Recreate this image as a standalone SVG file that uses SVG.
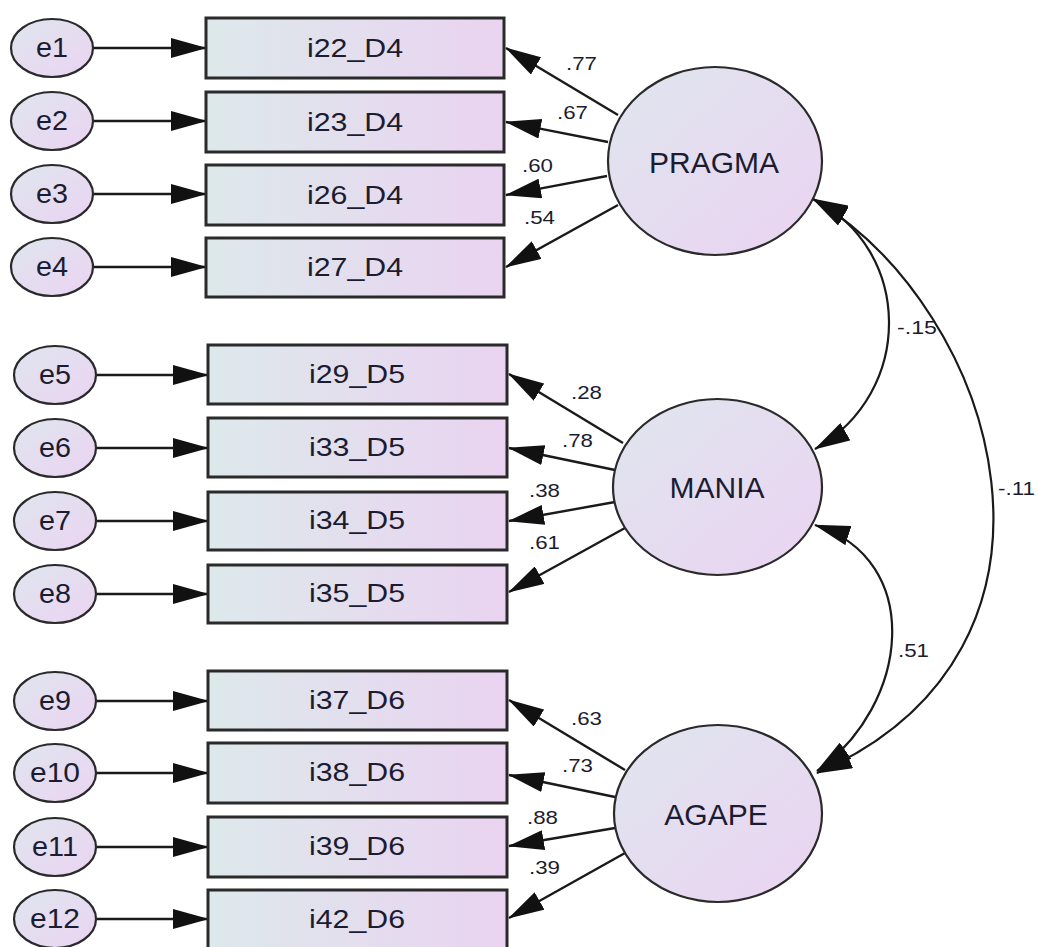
<svg xmlns="http://www.w3.org/2000/svg" width="1038" height="947" viewBox="0 0 1038 947">
<defs>
<linearGradient id="gBox" x1="0" y1="0" x2="1" y2="0">
<stop offset="0" stop-color="#dde9eb"/>
<stop offset="1" stop-color="#ead3f1"/>
</linearGradient>
<linearGradient id="gEll" x1="0" y1="0" x2="1" y2="1">
<stop offset="0" stop-color="#dfe6ee"/>
<stop offset="1" stop-color="#ebd3f2"/>
</linearGradient>
<marker id="ah" markerUnits="userSpaceOnUse" markerWidth="36" markerHeight="20" refX="35" refY="10" orient="auto-start-reverse" viewBox="0 0 36 20">
<path d="M0,0 L36,10 L0,20 Z" fill="#111"/>
</marker>
<style>
.box{fill:url(#gBox);stroke:#2a2a2a;stroke-width:3}
.ell{fill:url(#gEll);stroke:#2a2a2a;stroke-width:2.2}
.lat{fill:url(#gEll);stroke:#2a2a2a;stroke-width:2.2}
.t{font-family:"Liberation Sans",Arial,sans-serif;fill:#1c1c30;text-anchor:middle}
.bt{font-size:25px}
.et{font-size:27px}
.lt{font-size:30px}
.pl{font-family:"Liberation Sans",Arial,sans-serif;font-size:19px;fill:#1c1c30}
.c{fill:none;stroke:#1a1a1a;stroke-width:2.4;marker-end:url(#ah)}
.cc{fill:none;stroke:#1a1a1a;stroke-width:2.2;marker-start:url(#ah);marker-end:url(#ah)}
</style>
</defs>

<g id="connectors">
<line class="c" x1="93" y1="48" x2="206" y2="48"/>
<line class="c" x1="93" y1="121" x2="206" y2="121"/>
<line class="c" x1="93" y1="194" x2="206" y2="194"/>
<line class="c" x1="93" y1="267" x2="206" y2="267"/>
<line class="c" x1="96" y1="375" x2="208" y2="375"/>
<line class="c" x1="96" y1="448" x2="208" y2="448"/>
<line class="c" x1="96" y1="521" x2="208" y2="521"/>
<line class="c" x1="96" y1="594" x2="208" y2="594"/>
<line class="c" x1="96" y1="701" x2="208" y2="701"/>
<line class="c" x1="96" y1="773" x2="208" y2="773"/>
<line class="c" x1="96" y1="847" x2="208" y2="847"/>
<line class="c" x1="96" y1="919" x2="208" y2="919"/>
<line class="c" x1="618" y1="115" x2="506" y2="48"/>
<line class="c" x1="608" y1="142" x2="506" y2="122"/>
<line class="c" x1="607" y1="176" x2="506" y2="195"/>
<line class="c" x1="618" y1="205" x2="506" y2="267"/>
<line class="c" x1="623" y1="443" x2="509" y2="374"/>
<line class="c" x1="615" y1="470" x2="509" y2="448"/>
<line class="c" x1="615" y1="502" x2="509" y2="521"/>
<line class="c" x1="625" y1="528" x2="509" y2="592"/>
<line class="c" x1="625" y1="770" x2="509" y2="700"/>
<line class="c" x1="615" y1="797" x2="509" y2="775"/>
<line class="c" x1="615" y1="828" x2="509" y2="846"/>
<line class="c" x1="625" y1="853" x2="509" y2="918"/>
<path class="cc" d="M813,199 C913,249 915,392 815,449"/>
<path class="cc" d="M815,525 C925,560 910,705 817,771"/>
<path class="cc" d="M813,199 C1000,310 1100,650 817,773"/>
</g>

<g id="labels">
<text class="pl" x="566" y="70" textLength="31" lengthAdjust="spacingAndGlyphs">.77</text>
<text class="pl" x="557" y="119" textLength="31" lengthAdjust="spacingAndGlyphs">.67</text>
<text class="pl" x="522" y="172" textLength="31" lengthAdjust="spacingAndGlyphs">.60</text>
<text class="pl" x="524" y="224" textLength="31" lengthAdjust="spacingAndGlyphs">.54</text>
<text class="pl" x="571" y="399" textLength="31" lengthAdjust="spacingAndGlyphs">.28</text>
<text class="pl" x="562" y="447" textLength="31" lengthAdjust="spacingAndGlyphs">.78</text>
<text class="pl" x="529" y="497" textLength="31" lengthAdjust="spacingAndGlyphs">.38</text>
<text class="pl" x="529" y="549" textLength="31" lengthAdjust="spacingAndGlyphs">.61</text>
<text class="pl" x="571" y="725" textLength="31" lengthAdjust="spacingAndGlyphs">.63</text>
<text class="pl" x="562" y="772" textLength="31" lengthAdjust="spacingAndGlyphs">.73</text>
<text class="pl" x="527" y="824" textLength="31" lengthAdjust="spacingAndGlyphs">.88</text>
<text class="pl" x="529" y="874" textLength="31" lengthAdjust="spacingAndGlyphs">.39</text>
<text class="pl" x="897" y="334" textLength="40" lengthAdjust="spacingAndGlyphs">-.15</text>
<text class="pl" x="998" y="495" textLength="37" lengthAdjust="spacingAndGlyphs">-.11</text>
<text class="pl" x="898" y="657" textLength="31" lengthAdjust="spacingAndGlyphs">.51</text>
</g>

<g id="e1"><ellipse class="ell" cx="52" cy="48" rx="41" ry="29"/><text class="t et" x="52" y="57" textLength="32" lengthAdjust="spacingAndGlyphs">e1</text></g>
<g id="e2"><ellipse class="ell" cx="52" cy="121" rx="41" ry="29"/><text class="t et" x="52" y="130" textLength="32" lengthAdjust="spacingAndGlyphs">e2</text></g>
<g id="e3"><ellipse class="ell" cx="52" cy="194" rx="41" ry="29"/><text class="t et" x="52" y="203" textLength="32" lengthAdjust="spacingAndGlyphs">e3</text></g>
<g id="e4"><ellipse class="ell" cx="52" cy="267" rx="41" ry="29"/><text class="t et" x="52" y="276" textLength="32" lengthAdjust="spacingAndGlyphs">e4</text></g>
<g id="e5"><ellipse class="ell" cx="55" cy="375" rx="41" ry="29"/><text class="t et" x="55" y="384" textLength="32" lengthAdjust="spacingAndGlyphs">e5</text></g>
<g id="e6"><ellipse class="ell" cx="55" cy="448" rx="41" ry="29"/><text class="t et" x="55" y="457" textLength="32" lengthAdjust="spacingAndGlyphs">e6</text></g>
<g id="e7"><ellipse class="ell" cx="55" cy="521" rx="41" ry="29"/><text class="t et" x="55" y="530" textLength="32" lengthAdjust="spacingAndGlyphs">e7</text></g>
<g id="e8"><ellipse class="ell" cx="55" cy="594" rx="41" ry="29"/><text class="t et" x="55" y="603" textLength="32" lengthAdjust="spacingAndGlyphs">e8</text></g>
<g id="e9"><ellipse class="ell" cx="55" cy="701" rx="41" ry="29"/><text class="t et" x="55" y="710" textLength="32" lengthAdjust="spacingAndGlyphs">e9</text></g>
<g id="e10"><ellipse class="ell" cx="55" cy="773" rx="41" ry="29"/><text class="t et" x="55" y="782" textLength="50" lengthAdjust="spacingAndGlyphs">e10</text></g>
<g id="e11"><ellipse class="ell" cx="55" cy="847" rx="41" ry="29"/><text class="t et" x="55" y="856" textLength="46" lengthAdjust="spacingAndGlyphs">e11</text></g>
<g id="e12"><ellipse class="ell" cx="55" cy="919" rx="41" ry="29"/><text class="t et" x="55" y="928" textLength="50" lengthAdjust="spacingAndGlyphs">e12</text></g>

<g id="i22_D4"><rect class="box" x="206" y="18" width="298" height="60"/><text class="t bt" x="355" y="57" textLength="96" lengthAdjust="spacingAndGlyphs">i22_D4</text></g>
<g id="i23_D4"><rect class="box" x="206" y="92" width="298" height="60"/><text class="t bt" x="355" y="131" textLength="96" lengthAdjust="spacingAndGlyphs">i23_D4</text></g>
<g id="i26_D4"><rect class="box" x="206" y="165" width="298" height="60"/><text class="t bt" x="355" y="204" textLength="96" lengthAdjust="spacingAndGlyphs">i26_D4</text></g>
<g id="i27_D4"><rect class="box" x="206" y="238" width="298" height="59"/><text class="t bt" x="355" y="276" textLength="96" lengthAdjust="spacingAndGlyphs">i27_D4</text></g>
<g id="i29_D5"><rect class="box" x="208" y="345" width="299" height="59"/><text class="t bt" x="357" y="383" textLength="96" lengthAdjust="spacingAndGlyphs">i29_D5</text></g>
<g id="i33_D5"><rect class="box" x="208" y="418" width="299" height="59"/><text class="t bt" x="357" y="456" textLength="96" lengthAdjust="spacingAndGlyphs">i33_D5</text></g>
<g id="i34_D5"><rect class="box" x="208" y="492" width="299" height="58"/><text class="t bt" x="357" y="529" textLength="96" lengthAdjust="spacingAndGlyphs">i34_D5</text></g>
<g id="i35_D5"><rect class="box" x="208" y="565" width="299" height="58"/><text class="t bt" x="357" y="602" textLength="96" lengthAdjust="spacingAndGlyphs">i35_D5</text></g>
<g id="i37_D6"><rect class="box" x="208" y="671" width="299" height="59"/><text class="t bt" x="357" y="709" textLength="96" lengthAdjust="spacingAndGlyphs">i37_D6</text></g>
<g id="i38_D6"><rect class="box" x="208" y="743" width="299" height="60"/><text class="t bt" x="357" y="781" textLength="96" lengthAdjust="spacingAndGlyphs">i38_D6</text></g>
<g id="i39_D6"><rect class="box" x="208" y="817" width="299" height="60"/><text class="t bt" x="357" y="855" textLength="96" lengthAdjust="spacingAndGlyphs">i39_D6</text></g>
<g id="i42_D6"><rect class="box" x="208" y="890" width="299" height="60"/><text class="t bt" x="357" y="928" textLength="96" lengthAdjust="spacingAndGlyphs">i42_D6</text></g>

<g id="PRAGMA"><ellipse class="lat" cx="715" cy="161" rx="107" ry="94"/><text class="t lt" x="714" y="173">PRAGMA</text></g>
<g id="MANIA"><ellipse class="lat" cx="717.5" cy="487" rx="104.5" ry="88"/><text class="t lt" x="717" y="498">MANIA</text></g>
<g id="AGAPE"><ellipse class="lat" cx="718" cy="813.5" rx="104" ry="88.5"/><text class="t lt" x="716" y="825">AGAPE</text></g>
</svg>
